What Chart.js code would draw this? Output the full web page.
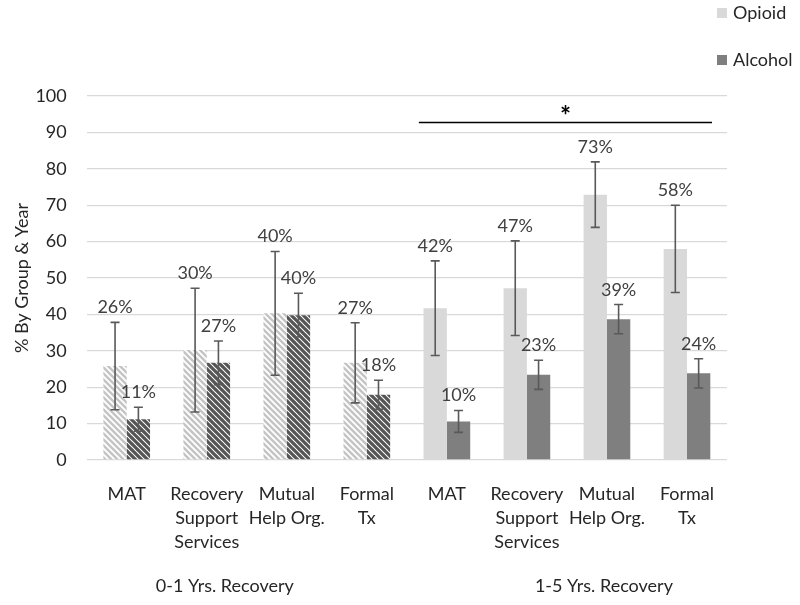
<!DOCTYPE html>
<html>
<head>
<meta charset="utf-8">
<script src="https://cdn.jsdelivr.net/npm/chart.js@4/dist/chart.umd.min.js"></script>
<style>
  html, body { margin: 0; padding: 0; background: #ffffff; }
  #wrap { width: 800px; height: 605px; }
</style>
</head>
<body>
<div id="wrap"><canvas id="chart" width="800" height="605"></canvas></div>
<script>
// カテゴリと値
const categories = [
  ['MAT'], ['Recovery', 'Support', 'Services'], ['Mutual', 'Help Org.'], ['Formal', 'Tx'],
  ['MAT'], ['Recovery', 'Support', 'Services'], ['Mutual', 'Help Org.'], ['Formal', 'Tx']
];
const groupLabels = ['0-1 Yrs. Recovery', '1-5 Yrs. Recovery'];
const seriesNames = ['Opioid', 'Alcohol'];
const opioidValues = [25.8, 30.2, 40.3, 26.7, 41.7, 47.2, 72.9, 58.0];
const alcoholValues = [11.2, 26.7, 39.8, 17.9, 10.6, 23.4, 38.7, 23.8];
const opioidErrors = [12, 17, 17, 11, 13, 13, 9, 12];
const alcoholErrors = [3.3, 6, 6, 4, 3, 4, 4, 4];
const opioidLabels = ['26%', '30%', '40%', '27%', '42%', '47%', '73%', '58%'];
const alcoholLabels = ['11%', '27%', '40%', '18%', '10%', '23%', '39%', '24%'];
const yTicks = [0, 10, 20, 30, 40, 50, 60, 70, 80, 90, 100];
const sigLevel = 92.7;   // 有意差の線
const sigText = '*';

const FONT = 'Lato, "Open Sans", sans-serif';
const OPIOID = '#d9d9d9';
const ALCOHOL = '#7f7f7f';

// 斜線パターンを作る
function stripes(color, width) {
  const n = 6;
  const c = document.createElement('canvas');
  c.width = n; c.height = n;
  const g = c.getContext('2d');
  g.fillStyle = '#ffffff';
  g.fillRect(0, 0, n, n);
  g.strokeStyle = color;
  g.lineWidth = width;
  g.beginPath();
  for (let k = -n; k <= n; k += n) {
    g.moveTo(k - 1, -1);
    g.lineTo(k + n + 1, n + 1);
  }
  g.stroke();
  return g.createPattern(c, 'repeat');
}
const opioidHatch = stripes('#c4c4c4', 2.4);
const alcoholHatch = stripes('#555555', 3.2);

const opioidFill = categories.map((c, i) => i < 4 ? opioidHatch : OPIOID);
const alcoholFill = categories.map((c, i) => i < 4 ? alcoholHatch : ALCOHOL);

// エラーバー、ラベル、凡例などを描く
const extras = {
  id: 'extras',
  afterDatasetsDraw(chart) {
    const ctx = chart.ctx;
    const x = chart.scales.x;
    const y = chart.scales.y;
    const errs = [opioidErrors, alcoholErrors];
    const vals = [opioidValues, alcoholValues];
    const texts = [opioidLabels, alcoholLabels];

    ctx.save();
    chart.data.datasets.forEach((ds, d) => {
      const meta = chart.getDatasetMeta(d);
      meta.data.forEach((bar, i) => {
        const top = y.getPixelForValue(vals[d][i] + errs[d][i]);
        const bot = y.getPixelForValue(vals[d][i] - errs[d][i]);
        ctx.strokeStyle = '#595959';
        ctx.lineWidth = 1.6;
        ctx.beginPath();
        ctx.moveTo(bar.x, top); ctx.lineTo(bar.x, bot);
        ctx.moveTo(bar.x - 4.5, top); ctx.lineTo(bar.x + 4.5, top);
        ctx.moveTo(bar.x - 4.5, bot); ctx.lineTo(bar.x + 4.5, bot);
        ctx.stroke();

        ctx.fillStyle = '#404040';
        ctx.font = '18px ' + FONT;
        ctx.textAlign = 'center';
        ctx.textBaseline = 'alphabetic';
        ctx.fillText(texts[d][i], bar.x, top - 9);
      });
    });

    // 有意差
    const sy = y.getPixelForValue(sigLevel);
    const x1 = x.getPixelForValue(4) - 28;
    const x2 = x.getPixelForValue(7) + 25;
    ctx.strokeStyle = '#000000';
    ctx.lineWidth = 1.6;
    ctx.beginPath();
    ctx.moveTo(x1, sy); ctx.lineTo(x2, sy);
    ctx.stroke();
    ctx.fillStyle = '#000000';
    ctx.font = 'bold 26px ' + FONT;
    ctx.textAlign = 'center';
    ctx.fillText(sigText, (x1 + x2) / 2, sy + 2);

    // グループ名
    ctx.fillStyle = '#262626';
    ctx.font = '18px ' + FONT;
    ctx.textBaseline = 'middle';
    ctx.fillText(groupLabels[0], (x.getPixelForValue(0) + x.getPixelForValue(3)) / 2 - 22, 586);
    ctx.fillText(groupLabels[1], (x.getPixelForValue(4) + x.getPixelForValue(7)) / 2 + 37, 586);

    // 凡例
    const colors = [OPIOID, ALCOHOL];
    ctx.font = '18px ' + FONT;
    ctx.textAlign = 'left';
    seriesNames.forEach((name, k) => {
      const cy = 13 + k * 47;
      ctx.fillStyle = colors[k];
      ctx.fillRect(717, cy - 5, 10, 10);
      ctx.fillStyle = '#262626';
      ctx.fillText(name, 733, cy);
    });
    ctx.restore();
  }
};

new Chart(document.getElementById('chart'), {
  type: 'bar',
  data: {
    labels: categories,
    datasets: [
      { label: seriesNames[0], data: opioidValues, backgroundColor: opioidFill, borderWidth: 0 },
      { label: seriesNames[1], data: alcoholValues, backgroundColor: alcoholFill, borderWidth: 0 }
    ]
  },
  options: {
    responsive: false,
    animation: false,
    devicePixelRatio: 1,
    layout: { padding: { left: 0, right: 73, top: 96, bottom: 0 } },
    datasets: { bar: { categoryPercentage: 0.583, barPercentage: 1.0 } },
    plugins: {
      legend: { display: false },
      tooltip: { enabled: false }
    },
    scales: {
      x: {
        grid: { display: false },
        border: { display: false },
        ticks: {
          color: '#262626',
          font: { family: FONT, size: 18, lineHeight: 1.33 },
          padding: 14,
          maxRotation: 0,
          autoSkip: false
        },
        afterFit(scale) { scale.height = 145; }
      },
      y: {
        min: 0,
        max: 100,
        afterBuildTicks(scale) { scale.ticks = yTicks.map(v => ({ value: v })); },
        grid: { color: '#d9d9d9', lineWidth: 1.3, drawTicks: false },
        border: { display: false },
        ticks: {
          color: '#262626',
          font: { family: FONT, size: 18 },
          padding: 20
        },
        title: {
          display: true,
          text: '% By Group & Year',
          color: '#262626',
          font: { family: FONT, size: 18 },
          padding: { top: 11, bottom: 0 }
        },
        afterFit(scale) { scale.width = 86.7; }
      }
    }
  },
  plugins: [extras]
});
</script>
</body>
</html>
